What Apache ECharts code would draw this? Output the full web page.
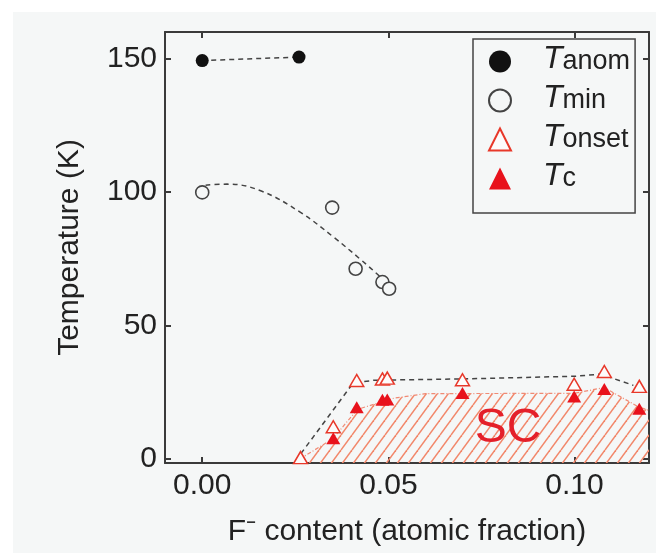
<!DOCTYPE html>
<html>
<head>
<meta charset="utf-8">
<script src="https://cdn.jsdelivr.net/npm/echarts@6/dist/echarts.min.js"></script>
<style>
  html, body { margin: 0; padding: 0; background: #ffffff; }
  #chart { width: 656px; height: 553px; }
</style>
</head>
<body>
<div id="chart"></div>
<script>
// Axis ticks
const xTicks = [0, 0.05, 0.10];
const yTicks = [0, 50, 100, 150];

// Measured points: [F- fraction, temperature K]
const tAnom = [[0.000, 149.3], [0.026, 150.6]];
const tMin = [[0.000, 99.9], [0.0349, 94.2], [0.0412, 71.3], [0.0484, 66.3], [0.0502, 63.8]];
const tOnset = [[0.0264, 0.5], [0.0352, 12.1], [0.0415, 29.4], [0.0484, 30.0], [0.0497, 30.3],
                [0.0699, 29.7], [0.0999, 28.0], [0.108, 32.8], [0.1174, 27.2]];
const tC = [[0.0352, 7.8], [0.0415, 19.4], [0.0484, 22.2], [0.0497, 22.3],
            [0.0699, 24.7], [0.0999, 23.4], [0.108, 26.2], [0.1174, 18.8]];

// Guide curves (dashed) and the superconducting dome boundary
const tMinGuide = [[0.0009, 102.6], [0.0067, 103.0], [0.0157, 100.5], [0.0264, 92.4],
                   [0.0354, 83.0], [0.0425, 74.8], [0.048, 68.0], [0.0497, 65.5]];
const tOnsetGuide = [[0.0265, 2.0], [0.0405, 28.4], [0.046, 29.5], [0.070, 30.0],
                     [0.100, 31.0], [0.107, 31.8], [0.1158, 27.6]];
const scDome = [[0.0262, 0], [0.035, 7.5], [0.0417, 18.6], [0.0515, 22.8], [0.060, 24.5],
                [0.100, 24.6], [0.108, 26.8], [0.1169, 19.7], [0.120, 18.2]];

const seriesNames = ['anom', 'min', 'onset', 'c'];

const FONT = '"Liberation Sans", Arial, Helvetica, sans-serif';
const AXIS_COLOR = '#3a3a3a';
const BG = '#f5f7f7';

// Diagonal hatch tile for the SC region
function hatchTile() {
  const w = 11, h = 15;
  const c = document.createElement('canvas');
  c.width = w; c.height = h;
  const ctx = c.getContext('2d');
  ctx.strokeStyle = '#f2876a';
  ctx.lineWidth = 1.5;
  for (const dx of [-w, 0, w]) {
    ctx.beginPath();
    ctx.moveTo(dx, h);
    ctx.lineTo(dx + w, 0);
    ctx.stroke();
  }
  return c;
}

const chart = echarts.init(document.getElementById('chart'), null, { renderer: 'canvas' });

const axisLine = { show: true, onZero: false, lineStyle: { color: AXIS_COLOR, width: 2 } };
const tickStyle = { color: AXIS_COLOR, width: 2 };
const labelStyle = { fontFamily: FONT, fontSize: 30, color: '#222' };

const option = {
  animation: false,
  graphic: {
    elements: [
      { type: 'rect', z: -100, silent: true,
        shape: { x: 13, y: 12, width: 643, height: 541 }, style: { fill: BG } },
      { type: 'text', z: 5, silent: true, x: 508, y: 429,
        style: { text: 'SC', fontFamily: FONT, fontSize: 48, fill: '#e4202a',
                 align: 'center', verticalAlign: 'middle' } }
    ]
  },
  grid: { left: 165, right: 7, top: 32, bottom: 90, containLabel: false, outerBoundsMode: 'none' },
  xAxis: [
    {
      type: 'value', min: -0.01, max: 0.12, position: 'bottom',
      axisLine: axisLine,
      axisTick: { show: true, inside: true, length: 6, customValues: xTicks, lineStyle: tickStyle },
      axisLabel: Object.assign({ customValues: xTicks, margin: 8,
        formatter: v => v.toFixed(2) }, labelStyle),
      splitLine: { show: false },
      name: 'F\u207B content (atomic fraction)', nameLocation: 'middle', nameGap: 54,
      nameTextStyle: { fontFamily: FONT, fontSize: 30, color: '#222' }
    },
    {
      type: 'value', min: -0.01, max: 0.12, position: 'top',
      axisLine: axisLine,
      axisTick: { show: true, inside: true, length: 6, customValues: xTicks, lineStyle: tickStyle },
      axisLabel: { show: false },
      splitLine: { show: false }
    }
  ],
  yAxis: [
    {
      type: 'value', min: -1.5, max: 160, position: 'left',
      axisLine: axisLine,
      axisTick: { show: true, inside: true, length: 6, customValues: yTicks, lineStyle: tickStyle },
      axisLabel: Object.assign({ customValues: yTicks, margin: 8 }, labelStyle),
      splitLine: { show: false },
      name: 'Temperature (K)', nameLocation: 'middle', nameGap: 80, nameRotate: 90,
      nameTextStyle: { fontFamily: FONT, fontSize: 30, color: '#222' }
    },
    {
      type: 'value', min: -1.5, max: 160, position: 'right',
      axisLine: axisLine,
      axisTick: { show: true, inside: true, length: 6, customValues: yTicks, lineStyle: tickStyle },
      axisLabel: { show: false },
      splitLine: { show: false }
    }
  ],
  legend: {
    orient: 'vertical', left: 473, top: 39,
    padding: [4, 5, 16, 15],
    itemWidth: 22, itemHeight: 22, itemGap: 2,
    backgroundColor: BG, borderColor: '#444', borderWidth: 1.5, borderRadius: 0,
    selectedMode: false,
    data: seriesNames,
    formatter: n => '{t|T}{s|' + n + '}',
    textStyle: {
      rich: {
        t: { fontFamily: FONT, fontStyle: 'italic', fontSize: 32, lineHeight: 34,
             color: '#222', padding: [0, 0, 5, 27] },
        s: { fontFamily: FONT, fontSize: 27, lineHeight: 30, color: '#222' }
      }
    }
  },
  series: [
    // SC dome: hatched area with dash-dot outline
    {
      type: 'line', data: scDome, z: 1,
      symbol: 'none', silent: true,
      lineStyle: { color: '#f08a74', width: 1.2, type: [4, 2, 1, 2] },
      areaStyle: { origin: 'start', opacity: 1, color: { image: hatchTile(), repeat: 'repeat' } }
    },
    // dashed guides
    {
      type: 'line', data: tAnom, z: 2, symbol: 'none', silent: true,
      lineStyle: { color: '#444', width: 1.5, type: [5, 4] }
    },
    {
      type: 'line', data: tMinGuide, z: 2, symbol: 'none', silent: true, smooth: 0.4,
      lineStyle: { color: '#444', width: 1.5, type: [5, 4] }
    },
    {
      type: 'line', data: tOnsetGuide, z: 2, symbol: 'none', silent: true,
      lineStyle: { color: '#444', width: 1.5, type: [5, 4] }
    },
    // measured points
    {
      name: 'anom', type: 'scatter', data: tAnom, z: 4,
      symbol: 'circle', symbolSize: 13,
      itemStyle: { color: '#111', opacity: 1 }
    },
    {
      name: 'min', type: 'scatter', data: tMin, z: 4,
      symbol: 'circle', symbolSize: 13,
      itemStyle: { color: BG, borderColor: '#444', borderWidth: 1.6, opacity: 1 }
    },
    {
      name: 'onset', type: 'scatter', data: tOnset, z: 4,
      symbol: 'triangle', symbolSize: [14, 12],
      itemStyle: { color: '#fdfbfb', borderColor: '#e8382a', borderWidth: 1.5, opacity: 1 }
    },
    {
      name: 'c', type: 'scatter', data: tC, z: 5,
      symbol: 'triangle', symbolSize: [14, 12],
      itemStyle: { color: '#e8121c', opacity: 1 }
    }
  ]
};

chart.setOption(option);
</script>
</body>
</html>
